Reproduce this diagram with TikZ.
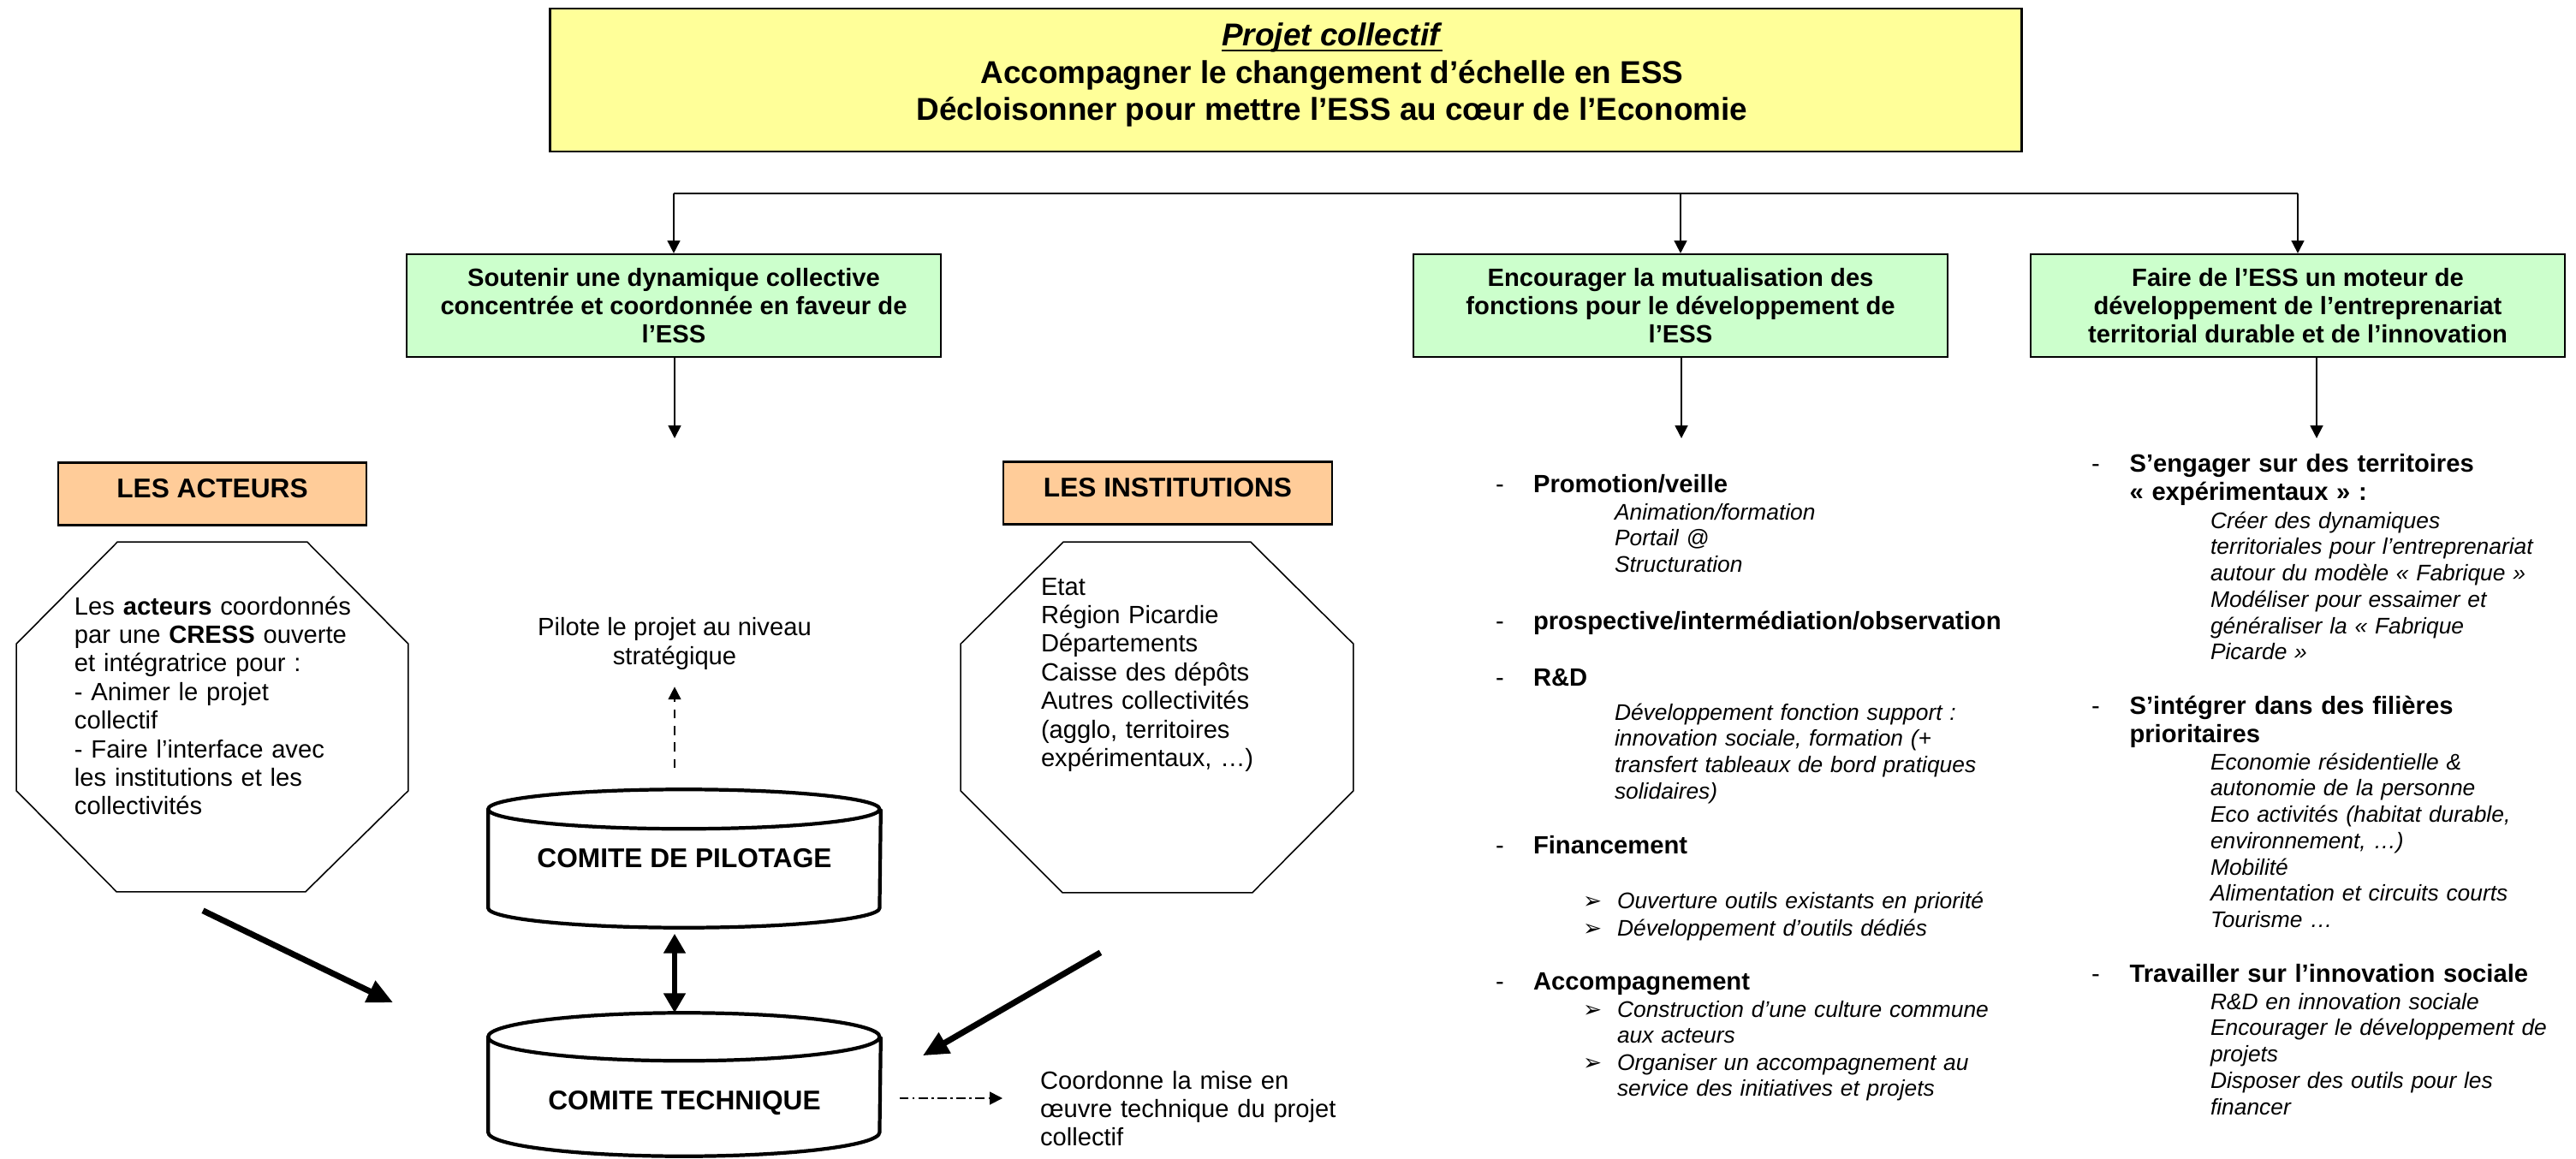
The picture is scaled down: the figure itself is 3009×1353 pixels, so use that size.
\documentclass[tikz,border=0pt]{standalone}
\usepackage{fontspec}
\setmainfont{Liberation Sans}
\newfontfamily\symfont{DejaVu Sans}
\usetikzlibrary{positioning, arrows.meta, calc}

\definecolor{projyellow}{HTML}{FFFF99}
\definecolor{goalgreen}{HTML}{CCFFCC}
\definecolor{tagorange}{HTML}{FFCC99}

\newcommand\diagfont{\fontsize{8.3}{9.5}\selectfont}
\newcommand\titlefont{\fontsize{10.5}{12.3}\selectfont}
\newcommand\tagfont{\fontsize{9}{10.5}\selectfont}
\newcommand\itemfont{\fontsize{7.5}{8.75}\selectfont}
\newcommand\bullettip{{\symfont\upshape\fontsize{7.5}{8}\selectfont ➢}}

\begin{document}
\begin{tikzpicture}[x=0.01cm, y=0.01cm]
		\tikzstyle{every node} = [font=\diagfont]
		\tikzstyle{plain} = [inner sep=0, outer sep=0]
		\tikzstyle{yellowbox} = [draw, line width=0.6pt, fill=projyellow, minimum width=17.18cm, minimum height=1.67cm]
		\tikzstyle{greenbox} = [draw, line width=0.6pt, fill=goalgreen, minimum width=6.24cm, minimum height=1.2cm, align=center, font=\diagfont\bfseries]
		\tikzstyle{orangebox} = [draw, line width=0.6pt, fill=tagorange, minimum width=3.6cm, minimum height=0.73cm, text depth=4pt, font=\tagfont\bfseries]
		\tikzstyle{octobox} = [inner sep=0, minimum width=4.56cm, minimum height=4.07cm]
		\tikzstyle{octline} = [line width=0.45pt]
		\tikzstyle{cylbox} = [inner sep=0, minimum width=4.57cm, font=\tagfont\bfseries]
		\tikzstyle{cylline} = [line width=1.2pt]
		\tikzstyle{headline} = [plain, anchor=base west, text width=7cm, align=left, font=\diagfont\bfseries]
		\tikzstyle{subitems} = [plain, anchor=base west, text width=6cm, align=left, font=\itemfont\itshape]
		\tikzstyle{tri} = [-{Triangle[length=4.2pt,width=4.2pt]}, line width=0.5pt]
		\tikzstyle{dasharrow} = [tri, dash pattern=on 3pt off 2.5pt]
		\tikzstyle{ddarrow} = [tri, dash pattern=on 3pt off 1.3pt on 0.7pt off 1.3pt]
		\tikzstyle{bigarrow} = [-{Triangle[length=8.5pt,width=7.5pt]}, line width=2pt]
		\tikzstyle{dblarrow} = [{Triangle[length=6.5pt,width=7pt]}-{Triangle[length=6.5pt,width=7pt]}, line width=1.8pt]
		
		\useasboundingbox (0,0) rectangle (3009,1353);
		
		% project box
		\node [yellowbox] (v1) at (1502,1259.5) {};
		\node [plain, align=center, font=\titlefont\bfseries] (v2) at (1556,1252) {\underline{\smash{\textit{Projet collectif}}}\\Accompagner le changement d’échelle en ESS\\Décloisonner pour mettre l’ESS au cœur de l’Economie};
		
		% three goals
		\node [greenbox] (v3) at (787,996) {Soutenir une dynamique collective\\concentrée et coordonnée en faveur de\\l’ESS};
		\node [greenbox] (v4) at (1963,996) {Encourager la mutualisation des\\fonctions pour le développement de\\l’ESS};
		\node [greenbox] (v5) at (2684,996) {Faire de l’ESS un moteur de\\développement de l’entreprenariat\\territorial durable et de l’innovation};
		\coordinate (h) at (1964,1127);
		\draw [line width=0.5pt] (v3.north |- h) -- (v5.north |- h);
		\draw [tri] (v3.north |- h) -- (v3.north);
		\draw [tri] (v4.north |- h) -- (v4.north);
		\draw [tri] (v5.north |- h) -- (v5.north);
		\coordinate (c1) at (788,841);
		\coordinate (c2) at (1964,841);
		\coordinate (c3) at (2706,841);
		\draw [tri] (v3.south -| c1) -- (c1);
		\draw [tri] (v4.south -| c2) -- (c2);
		\draw [tri] (v5.south -| c3) -- (c3);
		
		% actors and institutions
		\node [orangebox] (v6) at (248,776) {LES ACTEURS};
		\node [orangebox, minimum width=3.84cm] (v7) at (1364,777) {LES INSTITUTIONS};
		\node [octobox] (v8) at (248,515.5) {};
		\node [octobox, minimum width=4.57cm, minimum height=4.08cm] (v9) at (1351.5,515) {};
		\draw [octline] ($(v8.north west)+(118,0)$) -- ($(v8.north east)+(-118,0)$) -- ($(v8.north east)+(0,-119)$) -- ($(v8.south east)+(0,118)$) -- ($(v8.south east)+(-120,0)$) -- ($(v8.south west)+(117,0)$) -- ($(v8.south west)+(0,118)$) -- ($(v8.north west)+(0,-119)$) -- cycle;
		\draw [octline] ($(v9.north west)+(120,0)$) -- ($(v9.north east)+(-120,0)$) -- ($(v9.north east)+(0,-119)$) -- ($(v9.south east)+(0,119)$) -- ($(v9.south east)+(-118,0)$) -- ($(v9.south west)+(119,0)$) -- ($(v9.south west)+(0,119)$) -- ($(v9.north west)+(0,-119)$) -- cycle;
		\node [plain, anchor=base west, text width=3.6cm, align=left] (v10) at (87,635) {Les \textbf{acteurs} coordonnés\\par une \textbf{CRESS} ouverte\\et intégratrice pour :\\- Animer le projet\\collectif\\- Faire l’interface avec\\les institutions et les\\collectivités};
		\node [plain, anchor=base west, text width=3.6cm, align=left] (v11) at (1216,658) {Etat\\Région Picardie\\Départements\\Caisse des dépôts\\Autres collectivités\\(agglo, territoires\\expérimentaux, …)};
		
		% committees
		\node [plain, align=center] (v12) at (788,601) {Pilote le projet au niveau\\stratégique};
		\node [cylbox, minimum height=1.6cm] (v13) at (799.5,350) {COMITE DE PILOTAGE};
		\node [cylbox, minimum height=1.66cm, text height=18.4pt] (v14) at (799.5,86) {COMITE TECHNIQUE};
		\draw [cylline] ([yshift=-0.23cm]v13.north west) arc [start angle=180, end angle=360, x radius=2.285cm, y radius=0.23cm] arc [start angle=0, end angle=180, x radius=2.285cm, y radius=0.23cm] -- ([yshift=0.23cm]v13.south west) arc [start angle=180, end angle=360, x radius=2.285cm, y radius=0.23cm] -- ([yshift=-0.23cm]v13.north east);
		\draw [cylline] ([yshift=-0.28cm]v14.north west) arc [start angle=180, end angle=360, x radius=2.285cm, y radius=0.28cm] arc [start angle=0, end angle=180, x radius=2.285cm, y radius=0.28cm] -- ([yshift=0.28cm]v14.south west) arc [start angle=180, end angle=360, x radius=2.285cm, y radius=0.28cm] -- ([yshift=-0.28cm]v14.north east);
		\node [plain, anchor=base west, text width=3.6cm, align=left] (v15) at (1215,81) {Coordonne la mise en\\œuvre technique du projet\\collectif};
		\draw [dasharrow, shorten <=0.25cm, shorten >=0.2cm] (v13.north -| v12) -- (v12.south);
		\draw [dblarrow, shorten <=0.07cm] (v13.south -| v12) -- (v14.north -| v12);
		\draw [bigarrow] ($(v8.south)+(-11,-22)$) -- ($(v14.north west)+(-111,12)$);
		\draw [bigarrow] ($(v9.south)+(-66,-70)$) -- ($(v14.north east)+(49,-50)$);
		\draw [ddarrow] ($(v14.east)+(22,-16)$) -- ($(v15.base west)+(-44,-11)$);
		
		% functions
		\node [headline] (v16) at (1747,778) {\makebox[0.44cm][l]{\mdseries -}Promotion/veille};
		\node [subitems] (v17) at (1886,746) {Animation/formation\\Portail @\\Structuration};
		\node [headline] (v18) at (1747,618) {\makebox[0.44cm][l]{\mdseries -}prospective/intermédiation/observation};
		\node [headline] (v19) at (1747,552) {\makebox[0.44cm][l]{\mdseries -}R\&D};
		\node [subitems] (v20) at (1886,512) {Développement fonction support :\\innovation sociale, formation (+\\transfert tableaux de bord pratiques\\solidaires)};
		\node [headline] (v21) at (1747,356) {\makebox[0.44cm][l]{\mdseries -}Financement};
		\node [subitems] (v22) at (1849,292) {\makebox[0.4cm][l]{\bullettip}Ouverture outils existants en priorité};
		\node [subitems] (v23) at (1849,260) {\makebox[0.4cm][l]{\bullettip}Développement d’outils dédiés};
		\node [headline] (v24) at (1747,197) {\makebox[0.44cm][l]{\mdseries -}Accompagnement};
		\node [subitems] (v25) at (1849,165) {\makebox[0.4cm][l]{\bullettip}Construction d’une culture commune\\\hspace*{0.4cm}aux acteurs};
		\node [subitems] (v26) at (1849,103) {\makebox[0.4cm][l]{\bullettip}Organiser un accompagnement au\\\hspace*{0.4cm}service des initiatives et projets};
		
		% entrepreneurship
		\node [headline] (v27) at (2443,802) {\makebox[0.445cm][l]{\mdseries -}S’engager sur des territoires\\\hspace*{0.445cm}« expérimentaux » :};
		\node [subitems] (v28) at (2582,736) {Créer des dynamiques\\territoriales pour l’entreprenariat\\autour du modèle « Fabrique »\\Modéliser pour essaimer et\\généraliser la « Fabrique\\Picarde »};
		\node [headline] (v29) at (2443,519) {\makebox[0.445cm][l]{\mdseries -}S’intégrer dans des filières\\\hspace*{0.445cm}prioritaires};
		\node [subitems] (v30) at (2582,454) {Economie résidentielle \&\\autonomie de la personne\\Eco activités (habitat durable,\\environnement, …)\\Mobilité\\Alimentation et circuits courts\\Tourisme …};
		\node [headline] (v31) at (2443,206) {\makebox[0.445cm][l]{\mdseries -}Travailler sur l’innovation sociale};
		\node [subitems] (v32) at (2582,174) {R\&D en innovation sociale\\Encourager le développement de\\projets\\Disposer des outils pour les\\financer};
\end{tikzpicture}
\end{document}
